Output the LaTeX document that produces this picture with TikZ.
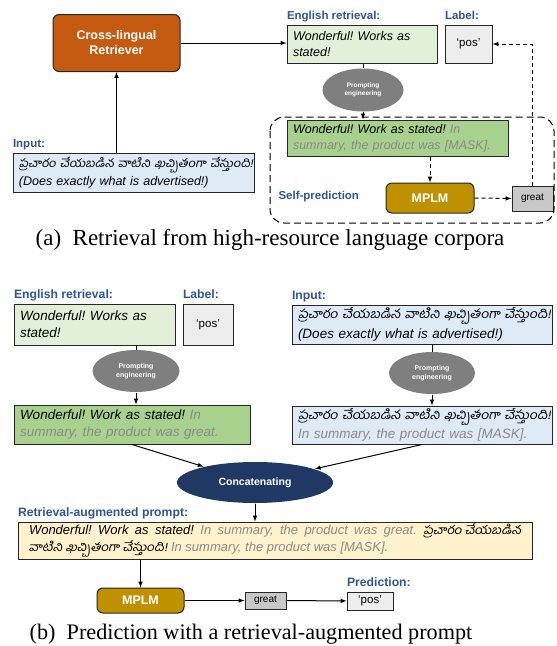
\documentclass[tikz,border=0pt]{standalone}
\usepackage{fontspec}
\setmainfont{Liberation Serif}
\newfontfamily\arial{Liberation Sans}
\newfontfamily\telfont[Script=Telugu,FakeSlant=0.2,Scale=0.92,FakeStretch=1.12]{Hind Guntur}
\usetikzlibrary{shapes.geometric, positioning, arrows}
\definecolor{rorange}{HTML}{C55A11}
\definecolor{inblue}{HTML}{DEEBF7}
\definecolor{lgreen}{HTML}{E2F0D9}
\definecolor{mgreen}{HTML}{A9D18E}
\definecolor{lgray}{HTML}{EDEDED}
\definecolor{egray}{HTML}{7F7F7F}
\definecolor{gold}{HTML}{BF9000}
\definecolor{ggray}{HTML}{C8C8C8}
\definecolor{navy}{HTML}{203864}
\definecolor{lyellow}{HTML}{FFF2CC}
\definecolor{lblue}{HTML}{2F5597}
\definecolor{gtxt}{HTML}{8A8A8A}
\newcommand{\tel}[1]{\mbox{\telfont #1}}
\newcommand{\gr}[1]{{\color{gtxt}#1}}
\frenchspacing

\begin{document}
\begin{tikzpicture}[x=1pt,y=-1pt,>=latex,line width=1pt,
  box/.style={draw=black!85,inner xsep=6pt,inner ysep=0pt,align=left},
  fa/.style={font=\arial\itshape\fontsize{12.5}{16}\selectfont},
  fb/.style={font=\arial\itshape\fontsize{13.5}{17}\selectfont},
  lbl/.style={font=\arial\bfseries\fontsize{11.5}{13}\selectfont,text=lblue,inner sep=0pt,anchor=base west,yshift=5pt},
  lblb/.style={lbl,font=\arial\bfseries\fontsize{12.2}{14}\selectfont},
  blk/.style={draw=black!85,rounded corners=6pt,text=white,font=\arial\bfseries\fontsize{12.5}{15}\selectfont,align=center},
  prm/.style={ellipse,fill=egray,text=white,font=\arial\bfseries\fontsize{6.5}{8}\selectfont,align=center,inner sep=0pt},
  small/.style={draw=black!85,fill=ggray,font=\arial\fontsize{10}{12}\selectfont,inner sep=0pt},
  labbox/.style={draw=black!85,fill=lgray,font=\arial\fontsize{11.5}{13}\selectfont,inner sep=0pt},
  dsh/.style={dash pattern=on 4pt off 3pt}]
\useasboundingbox (0,0) rectangle (557,646);

% (a) retrieval
\node[blk,fill=rorange,minimum width=127pt,minimum height=57pt] (retA) at (116.5,43) {Cross-lingual\\Retriever};
\node[box,fa,fill=inblue,text width=229pt,minimum height=39pt] (inA) at (133.5,172.5) {\tel{ప్రచారం చేయబడిన వాటిని ఖచ్చితంగా చేస్తుంది!}\\[2pt](Does exactly what is advertised!)};
\node[box,fa,fill=lgreen,text width=138pt,minimum height=38pt] (engA) at (362,44) {Wonderful! Works as\\stated!};
\node[labbox,minimum width=47pt,minimum height=38pt] (labA) [right=7pt of engA] {‘pos’};
\node[prm,minimum width=81pt,minimum height=43pt] (promA) at (363,90) {Prompting\\engineering};
\node[box,fa,fill=mgreen,text width=209pt,minimum height=36pt] (tmpA) at (397.5,138) {Wonderful! Work as stated! \gr{In}\\\gr{summary, the product was [MASK].}};
\node[blk,fill=gold,minimum width=88pt,minimum height=30pt] (mplmA) at (430,198) {MPLM};
\node[small,minimum width=41pt,minimum height=25pt] (greatA) at (532.5,198.5) {great};
\node[lbl] at (engA.north west) {English retrieval:};
\node[lbl] at (labA.north west) {Label:};
\node[lbl] at (inA.north west) {Input:};
\node[lbl,yshift=0pt] (selfA) at (278,204) {Self-prediction};
\draw[dash pattern=on 7pt off 4pt,rounded corners=14pt] (270,117) rectangle (554,223);
\node[font=\fontsize{23}{26}\selectfont] (capA) at (270,240) {(a)\hspace{0.5em}Retrieval from high-resource language corpora};

\draw[->] (retA.south |- inA.north) -- (retA.south);
\draw[->] (retA.east) -- (retA.east -| engA.west);
\draw (engA.south -| promA.north) -- (promA.north);
\draw[->] (promA.south) -- (promA.south |- tmpA.north);
\draw[->,dsh] (tmpA.south -| mplmA.north) -- (mplmA.north);
\draw[->,dsh] (mplmA.east) -- (greatA.west);
\draw[->,dsh] (greatA.north) |- (labA.east);

% (b) prediction
\node[box,fb,fill=lgreen,text width=149pt,minimum height=41pt] (engB) at (94.5,324.5) {Wonderful! Works as\\stated!};
\node[labbox,minimum width=50pt,minimum height=41pt] (labB) [right=7pt of engB] {‘pos’};
\node[prm,font=\arial\bfseries\fontsize{7}{8.5}\selectfont,minimum width=87pt,minimum height=42pt] (promB) at (136,371) {Prompting\\engineering};
\node[box,fb,fill=mgreen,text width=224pt,minimum height=39pt] (tmpB) at (132,424.5) {Wonderful! Work as stated! \gr{In}\\\gr{summary, the product was great.}};
\node[box,fb,fill=inblue,text width=248pt,minimum height=39pt] (inB) at (422,324.5) {\tel{ప్రచారం చేయబడిన వాటిని ఖచ్చితంగా చేస్తుంది!}\\[2.5pt](Does exactly what is advertised!)};
\node[prm,font=\arial\bfseries\fontsize{7}{8.5}\selectfont,minimum width=86pt,minimum height=42pt] (promC) at (432,373) {Prompting\\engineering};
\node[box,fb,fill=inblue,text width=248pt,minimum height=38pt] (tmpC) at (422,425) {\tel{ప్రచారం చేయబడిన వాటిని ఖచ్చితంగా చేస్తుంది!}\\[2.5pt]\gr{In summary, the product was [MASK].}};
\node[ellipse,fill=navy,text=white,font=\arial\bfseries\fontsize{10.5}{12}\selectfont,minimum width=156pt,minimum height=41pt,inner sep=0pt] (concat) at (255,482.5) {Concatenating};
\node[box,fill=lyellow,inner xsep=11pt,text width=492pt,minimum height=37pt,align=justify,font=\arial\itshape\fontsize{13}{16.5}\selectfont] (aug) at (275,540.5) {Wonderful! Work as stated! \gr{In summary, the product was great.} \tel{ప్రచారం చేయబడిన}\linebreak \tel{వాటిని ఖచ్చితంగా చేస్తుంది!} \gr{In summary, the product was [MASK].}};
\node[blk,fill=gold,minimum width=87pt,minimum height=25pt] (mplmB) at (140.5,600.5) {MPLM};
\node[small,minimum width=41pt,minimum height=17pt] (greatB) at (265.5,600.5) {great};
\node[labbox,minimum width=46pt,minimum height=18pt] (predB) at (370,601) {‘pos’};
\node[lblb] at (engB.north west) {English retrieval:};
\node[lblb] at (labB.north west) {Label:};
\node[lblb] at (inB.north west) {Input:};
\node[lblb] at (aug.north west) {Retrieval-augmented prompt:};
\node[lblb] at (predB.north west) {Prediction:};
\node[font=\fontsize{22.2}{25}\selectfont] (capB) at (251,634) {(b)\hspace{0.5em}Prediction with a retrieval-augmented prompt};

\draw (promB.north |- engB.south) -- (promB.north);
\draw[->] (promB.south) -- (promB.south |- tmpB.north);
\draw (promC.north |- inB.south) -- (promC.north);
\draw[->] (promC.south) -- (promC.south |- tmpC.north);
\draw[->] (tmpB.south) -- (concat);
\draw[->] (tmpC.south) -- (concat);
\draw[->] (concat.south) -- (concat.south |- aug.north);
\draw[->] (aug.south -| mplmB.north) -- (mplmB.north);
\draw[->] (mplmB) -- (greatB);
\draw[->] (greatB) -- (predB);
\end{tikzpicture}
\end{document}
